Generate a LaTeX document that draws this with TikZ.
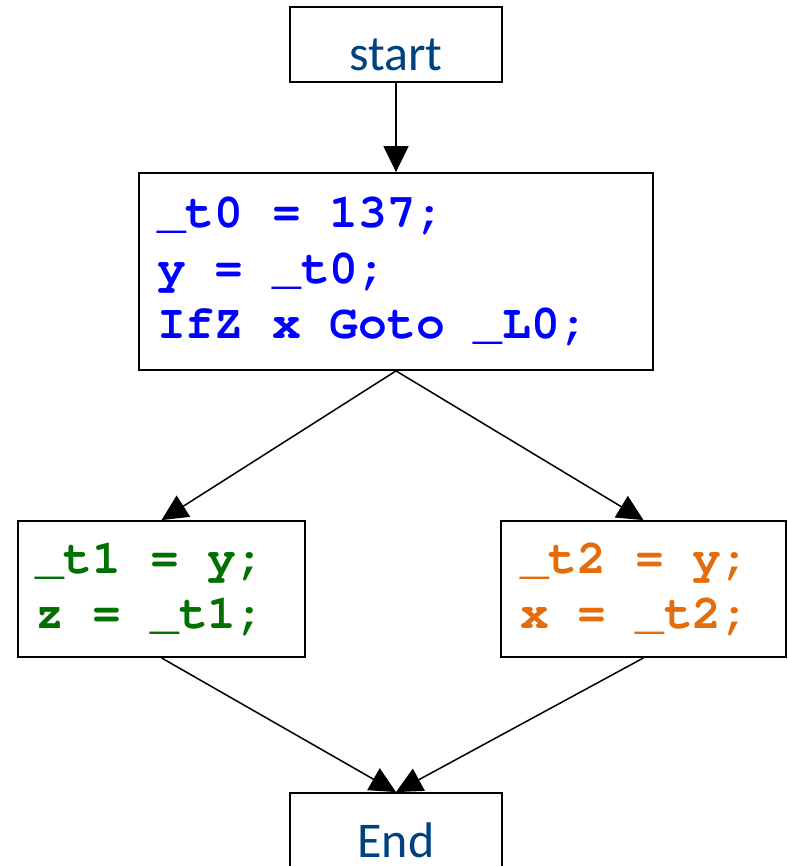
\documentclass[tikz,border=0pt]{standalone}
\usepackage{fontspec}
\setmainfont{Carlito}
\usetikzlibrary{arrows.meta,calc,positioning}
\definecolor{termblue}{RGB}{0,66,128}
\definecolor{codeblue}{RGB}{0,0,255}
\definecolor{codegreen}{RGB}{0,112,0}
\definecolor{codeorange}{RGB}{228,108,10}
\newcommand\codefont{\fontencoding{T1}\fontfamily{pcr}\bfseries}

\begin{document}
\begin{tikzpicture}[x=0.5pt,y=-0.5pt,line width=0.75pt,
		>={Triangle[length=13pt,width=12.5pt]},
		box/.style={draw,line width=0.9pt,inner sep=0pt},
		termbox/.style={box,minimum width=106pt,minimum height=37.5pt,text height=26.5pt,text depth=0pt,
			text=termblue,font=\fontsize{25}{30}\selectfont},
		codebox/.style={box,align=flush left,font=\codefont\fontsize{24}{27.75}\selectfont,
			execute at begin node={\spaceskip=0pt\xspaceskip=0pt\relax}}]
		\useasboundingbox (0,0) rectangle (787,866);
		\node[termbox] (s) at (396,44.5) {start};
		\node[codebox,text=codeblue,text width=239pt,inner xsep=9pt,minimum height=98.5pt] (b0) at (396,271.5)
			{\_t0 = 137;\\y = \_t0;\\IfZ x Goto \_L0;};
		\node[codebox,text=codegreen,text width=126.5pt,inner xsep=8.5pt,minimum height=68pt] (b1) at (161.5,589)
			{\_t1 = y;\\z = \_t1;};
		\node[codebox,text=codeorange,text width=123.5pt,inner xsep=9.5pt,minimum height=68pt] (b2) at (643.5,589)
			{\_t2 = y;\\x = \_t2;};
		\node[termbox] (e) at (396,830.5) {End};
		\draw[->] (s) -- (b0);
		\draw[->] (b0.south) -- (b1.north);
		\draw[->] (b0.south) -- (b2.north);
		\draw[->] (b1.south) -- (e.north);
		\draw[->] (b2.south) -- (e.north);
	\end{tikzpicture}
\end{document}
